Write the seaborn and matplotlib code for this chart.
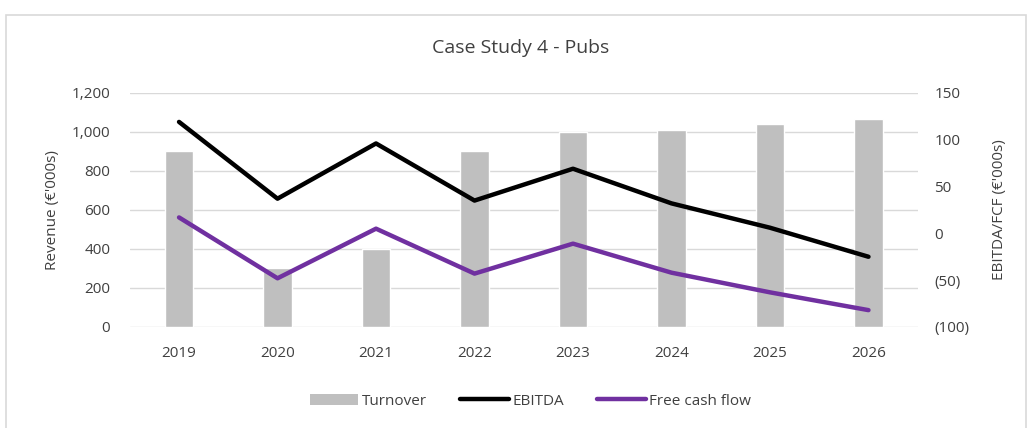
import matplotlib
matplotlib.use("Agg")
import matplotlib.pyplot as plt
import matplotlib.ticker as mticker
from matplotlib.patches import Rectangle, Patch
from matplotlib.lines import Line2D
import numpy as np
import pandas as pd
import seaborn as sns

years = ["2019", "2020", "2021", "2022", "2023", "2024", "2025", "2026"]
turnover = [900, 300, 400, 900, 1000, 1010, 1040, 1065]
ebitda = [119, 37, 96, 35, 69, 32, 6, -25]
free_cash_flow = [17, -48, 5, -43, -11, -42, -63, -82]

sns.set_theme(style="white")
plt.rcParams["font.family"] = ["Open Sans", "DejaVu Sans"]

text_color = "#404040"
bar_color = "#BFBFBF"
purple = "#7030A0"

df = pd.DataFrame({"year": years, "turnover": turnover,
                   "ebitda": ebitda, "fcf": free_cash_flow})
df["pos"] = np.arange(len(years))

fig = plt.figure(figsize=(10.30, 4.28), dpi=100)
ax = fig.add_axes([0.126, 0.236, 0.765, 0.547])

sns.barplot(data=df, x="year", y="turnover", color=bar_color, width=0.29,
            saturation=1, ax=ax, zorder=2)
ax.set_ylim(0, 1200)
ax.set_xlim(-0.5, len(years) - 0.5)
ax.yaxis.set_major_locator(mticker.MultipleLocator(200))
ax.yaxis.set_major_formatter(mticker.FuncFormatter(lambda v, p: f"{v:,.0f}"))
ax.grid(axis="y", color="#D9D9D9", linewidth=1, zorder=0)
ax.set_axisbelow(True)
ax.set_xlabel("")
ax.set_ylabel("Revenue (€'000s)", fontsize=11, color=text_color, labelpad=8)
for s in ax.spines.values():
    s.set_visible(False)
ax.tick_params(axis="y", length=0, labelsize=11, colors=text_color, pad=14)
ax.tick_params(axis="x", length=0, labelsize=11, colors=text_color, pad=14)

ax2 = ax.twinx()
sns.lineplot(data=df, x="pos", y="ebitda", color="black", linewidth=3.2,
             ax=ax2, zorder=3)
sns.lineplot(data=df, x="pos", y="fcf", color=purple, linewidth=3.2,
             ax=ax2, zorder=3)
ax2.set_ylim(-100, 150)
ax2.yaxis.set_major_locator(mticker.MultipleLocator(50))
ax2.yaxis.set_major_formatter(mticker.FuncFormatter(
    lambda v, p: f"({abs(v):,.0f})" if v < 0 else f"{v:,.0f}"))
ax2.set_ylabel("EBITDA/FCF (€'000s)", fontsize=11, color=text_color, labelpad=16)
ax2.set_xlabel("")
for s in ax2.spines.values():
    s.set_visible(False)
ax2.tick_params(axis="y", length=0, labelsize=11, colors=text_color, pad=12)
ax2.grid(False)

fig.text(0.505, 0.887, "Case Study 4 - Pubs", ha="center", va="center",
         fontsize=14, color=text_color)

handles = [
    Patch(facecolor=bar_color, edgecolor="none", label="Turnover"),
    Line2D([0], [0], color="black", linewidth=3.2, label="EBITDA"),
    Line2D([0], [0], color=purple, linewidth=3.2, label="Free cash flow"),
]
fig.legend(handles=handles, loc="center", bbox_to_anchor=(0.515, 0.063),
           ncol=3, frameon=False, fontsize=11, handlelength=3.2,
           handletextpad=0.2, columnspacing=2.2, labelcolor=text_color)

fig.patches.append(Rectangle((0.006, -0.01), 0.99, 0.975,
                             transform=fig.transFigure, fill=False,
                             edgecolor="#D9D9D9", linewidth=1.2))

fig.savefig("out.png", dpi=100, facecolor="white")
